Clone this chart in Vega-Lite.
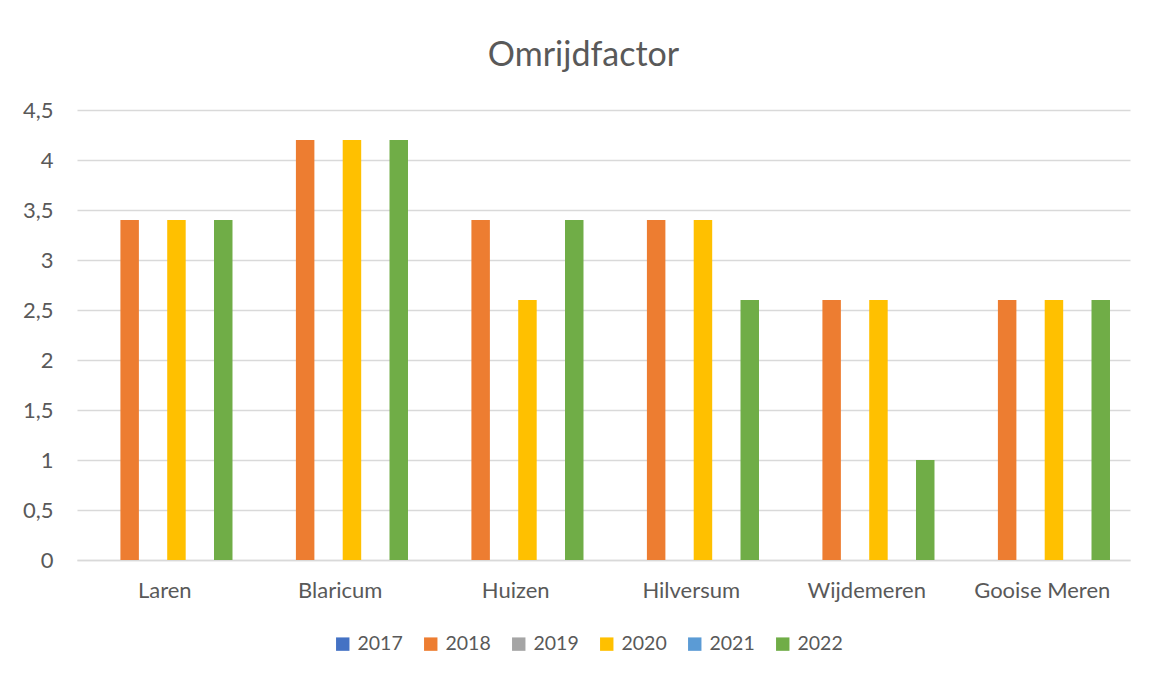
{
  "$schema": "https://vega.github.io/schema/vega-lite/v6.json",
  "width": 1053,
  "height": 450,
  "autosize": {"type": "none"},
  "padding": {"left": 77, "top": 110, "right": 22, "bottom": 117},
  "background": "white",
  "title": {
    "text": "Omrijdfactor",
    "fontSize": 34,
    "font": "Lato",
    "fontWeight": "normal",
    "color": "#595959",
    "offset": 26,
    "dx": -20,
    "anchor": "middle"
  },
  "data": {
    "values": [
      {"gemeente": "Laren", "jaar": "2018", "waarde": 3.4},
      {"gemeente": "Laren", "jaar": "2020", "waarde": 3.4},
      {"gemeente": "Laren", "jaar": "2022", "waarde": 3.4},
      {"gemeente": "Blaricum", "jaar": "2018", "waarde": 4.2},
      {"gemeente": "Blaricum", "jaar": "2020", "waarde": 4.2},
      {"gemeente": "Blaricum", "jaar": "2022", "waarde": 4.2},
      {"gemeente": "Huizen", "jaar": "2018", "waarde": 3.4},
      {"gemeente": "Huizen", "jaar": "2020", "waarde": 2.6},
      {"gemeente": "Huizen", "jaar": "2022", "waarde": 3.4},
      {"gemeente": "Hilversum", "jaar": "2018", "waarde": 3.4},
      {"gemeente": "Hilversum", "jaar": "2020", "waarde": 3.4},
      {"gemeente": "Hilversum", "jaar": "2022", "waarde": 2.6},
      {"gemeente": "Wijdemeren", "jaar": "2018", "waarde": 2.6},
      {"gemeente": "Wijdemeren", "jaar": "2020", "waarde": 2.6},
      {"gemeente": "Wijdemeren", "jaar": "2022", "waarde": 1.0},
      {"gemeente": "Gooise Meren", "jaar": "2018", "waarde": 2.6},
      {"gemeente": "Gooise Meren", "jaar": "2020", "waarde": 2.6},
      {"gemeente": "Gooise Meren", "jaar": "2022", "waarde": 2.6}
    ]
  },
  "mark": {"type": "bar"},
  "encoding": {
    "x": {
      "field": "gemeente",
      "type": "nominal",
      "sort": ["Laren", "Blaricum", "Huizen", "Hilversum", "Wijdemeren", "Gooise Meren"],
      "scale": {"paddingInner": 0.2, "paddingOuter": 0.1},
      "axis": {
        "title": null,
        "labelAngle": 0,
        "ticks": false,
        "domain": true,
        "domainColor": "#d9d9d9",
        "domainWidth": 1.5,
        "labelPadding": 20,
        "labelFont": "Lato",
        "labelFontSize": 22,
        "labelColor": "#595959"
      }
    },
    "xOffset": {
      "field": "jaar",
      "type": "nominal",
      "scale": {"domain": ["2017", "2018", "2019", "2020", "2021", "2022"], "paddingInner": 0.21, "paddingOuter": 0.105}
    },
    "y": {
      "field": "waarde",
      "type": "quantitative",
      "scale": {"domain": [0, 4.5], "nice": false},
      "axis": {
        "title": null,
        "values": [0, 0.5, 1, 1.5, 2, 2.5, 3, 3.5, 4, 4.5],
        "labelExpr": "replace(toString(datum.value), '.', ',')",
        "domain": false,
        "ticks": false,
        "grid": true,
        "gridColor": "#d9d9d9",
        "gridWidth": 1.5,
        "labelPadding": 24,
        "labelFont": "Lato",
        "labelFontSize": 22,
        "labelColor": "#595959"
      }
    },
    "color": {
      "field": "jaar",
      "type": "nominal",
      "scale": {
        "domain": ["2017", "2018", "2019", "2020", "2021", "2022"],
        "range": ["#4472C4", "#ED7D31", "#A5A5A5", "#FFC000", "#5B9BD5", "#70AD47"]
      },
      "legend": {
        "title": null,
        "orient": "none",
        "legendX": 256,
        "legendY": 524,
        "direction": "horizontal",
        "symbolType": "square",
        "symbolSize": 180,
        "symbolStrokeWidth": 0,
        "symbolOpacity": 1,
        "labelFont": "Lato",
        "labelFontSize": 19.5,
        "labelColor": "#595959",
        "labelOffset": 5,
        "columnPadding": 18
      }
    }
  },
  "config": {
    "view": {"stroke": null}
  }
}
